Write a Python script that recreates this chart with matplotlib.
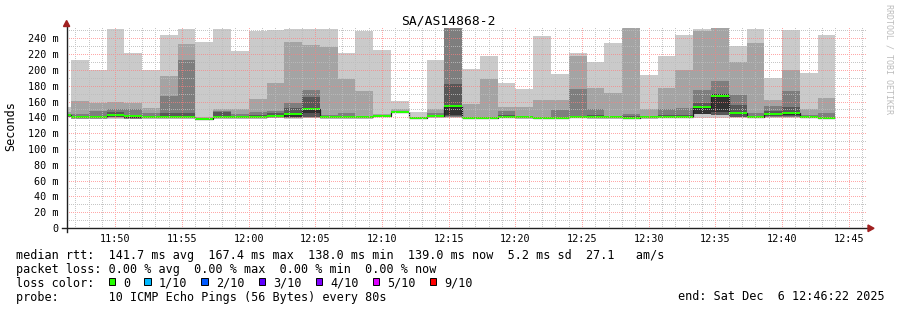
import matplotlib
matplotlib.use("Agg")
import matplotlib.pyplot as plt
from matplotlib.lines import Line2D
from matplotlib.patches import Polygon, Rectangle
import numpy as np

W, H = 897, 310
MONO = "DejaVu Sans Mono"

title = "SA/AS14868-2"
y_label = "Seconds"
watermark = "RRDTOOL / TOBI OETIKER"

# time axis (minutes of day)
t_start = 11 * 60 + 46 + 22 / 60
t_end = 12 * 60 + 46 + 22 / 60
first_step = 11 * 60 + 45 + 20 / 60
step_min = 80 / 60
y_top = 253

y_ticks = [0, 20, 40, 60, 80, 100, 120, 140, 160, 180, 200, 220, 240]
y_tick_labels = ["0", "20 m", "40 m", "60 m", "80 m", "100 m", "120 m", "140 m",
                 "160 m", "180 m", "200 m", "220 m", "240 m"]
x_ticks = [710, 715, 720, 725, 730, 735, 740, 745, 750, 755, 760, 765]
x_tick_labels = ["11:50", "11:55", "12:00", "12:05", "12:10", "12:15", "12:20",
                 "12:25", "12:30", "12:35", "12:40", "12:45"]

# sorted ping values per 80 s step (ms)
ping_max = [153, 213, 200, 252, 222, 200, 244, 252, 235, 252, 224, 249, 251, 252, 252, 252,
            221, 249, 225, 161, 147, 212, 260, 201, 217, 183, 175.5, 243, 194.5, 222, 209.5,
            234.5, 260, 193, 217, 244, 252, 260, 230, 252, 189.5, 250, 196, 244.5]
ping_p9 = [147, 161, 158, 160, 158, 152, 192, 233, 140, 151, 150, 163, 183, 235, 232, 229,
           189, 173, 144, 150, 141, 151, 258, 157, 188, 153, 153, 162, 162, 218, 177,
           171, 256, 150, 177, 199.5, 249, 258, 209.5, 234, 162.5, 200.5, 150, 164.5]
ping_p8 = [143.5, 144.5, 148, 150.5, 150.5, 145, 167, 212, 139.7, 148, 144, 147, 148, 158, 175, 143,
           146, 142, 143, 148, 140, 146, 256, 141, 141, 148, 142, 141, 149, 175.5, 151,
           142, 144, 142, 150.5, 152, 175, 185.5, 168, 145, 154, 173.5, 143, 146]
ping_p7 = [143, 142, 142, 146.5, 142.5, 142, 145, 145, 139.4, 147, 142, 143, 145, 152, 166, 141.5,
           142, 141, 142.6, 147.5, 139.5, 143, 182, 140, 140, 142.5, 141, 140, 141, 142, 143,
           141, 142, 141, 143, 143, 158.5, 169.5, 155.5, 142, 148, 153.5, 142, 141]
ping_p6 = [142.8, 141, 140.5, 143.5, 141.7, 141.3, 141.2, 141.2, 138.5, 141, 141.3, 141, 142, 145, 152, 140.5,
           140.4, 140.4, 142.3, 147.2, 139.3, 142.2, 156, 139.2, 139.4, 140.8, 140.2, 139.4, 139.4, 140.8, 141.4,
           140.4, 140, 140.2, 141.4, 141.4, 154, 169, 146, 141.4, 144.5, 146.3, 141.4, 139.4]
ping_p5 = [142, 140, 139.5, 142, 139, 140.5, 140.3, 140.3, 137.8, 140, 140.5, 140, 141, 141, 146, 139.8,
           139.6, 139.6, 141.7, 146.4, 138.7, 141.4, 143.5, 138.5, 138.7, 140, 139.5, 138.7, 138.7, 140, 139.5,
           139.6, 139.2, 139.5, 140.6, 140.6, 144.5, 147, 144, 140.6, 143, 143, 140.6, 138.8]
ping_p4 = [141.5, 139.5, 139, 141, 138.7, 140, 140, 140, 137.6, 139.7, 140, 139.5, 140.5, 140, 141, 139.5,
           139.3, 139.3, 141.4, 146, 138.5, 141, 142, 138.3, 138.5, 139.7, 139.2, 138.5, 138.5, 139.7, 139.2,
           139.3, 139, 139.2, 140.3, 140.3, 144.4, 143.5, 141, 140.3, 141.5, 141.5, 140.3, 138.6]
ping_p3 = [141, 139, 138.7, 140, 138.5, 139.5, 139.5, 139.5, 137.4, 139.4, 139.5, 139, 140, 139.5, 140, 139.2,
           139, 139, 141.1, 145.6, 138.3, 140.5, 141, 138.1, 138.3, 139.4, 139, 138.3, 138.3, 139.4, 139,
           139, 138.8, 139, 140, 140, 144.3, 143, 140.5, 140, 141, 141, 140, 138.4]
ping_p2 = [140.5, 138.5, 138.4, 139, 138.3, 139, 139, 139, 137.2, 139, 139, 138.7, 139.5, 139, 139.5, 139,
           138.7, 138.7, 140.8, 145.3, 138.1, 140, 140, 137.9, 138.1, 139, 138.7, 138.1, 138.1, 139, 138.7,
           138.7, 138.5, 138.7, 139.6, 139.6, 144.2, 142.5, 140, 139.6, 140.5, 140, 139.6, 138.2]
ping_min = [140, 138, 138, 138.5, 138, 138.5, 138.5, 138.5, 137, 138.5, 138.5, 138.3, 139, 138.5, 139, 138.5,
            138.3, 138.3, 140.5, 145, 137.8, 139.5, 139, 137.7, 137.9, 138.6, 138.4, 137.9, 137.9, 138.6, 138.4,
            138.4, 138.2, 138.4, 139.2, 139.2, 139, 139, 139, 139.2, 139, 139, 139.2, 138]
median_rtt = [142.5, 140.5, 140, 143, 141.5, 141, 140.8, 140.8, 138.0, 140.5, 141, 140.5, 141.5, 144.5, 150.8, 140.2,
              140, 140, 142, 146.8, 139, 141.8, 153.7, 138.8, 139, 140.4, 139.8, 139, 139, 140.4, 141,
              140, 139.6, 139.8, 141, 141, 153.4, 167.4, 145.5, 141, 144, 145.8, 141, 139.0]

legend_line1 = "median rtt:  141.7 ms avg  167.4 ms max  138.0 ms min  139.0 ms now  5.2 ms sd  27.1   am/s"
legend_line2 = "packet loss: 0.00 % avg  0.00 % max  0.00 % min  0.00 % now"
legend_line3 = "loss color:"
loss_labels = ["0", "1/10", "2/10", "3/10", "4/10", "5/10", "9/10"]
loss_colors = ["#26ff00", "#00b8ff", "#0059ff", "#5e00ff", "#7e00ff", "#dd00ff", "#ff0000"]
legend_line4 = "probe:       10 ICMP Echo Pings (56 Bytes) every 80s"
end_text = "end: Sat Dec  6 12:46:22 2025"

smoke_colors = ["#cacaca", "#a4a4a4", "#7e7e7e", "#585858", "#323232"]


def fx(x):
    return x / W


def fy(y):
    return 1 - y / H


PX0, PY_TOP, PW, PH = 67, 28, 800, 200  # plot area in pixels
fig = plt.figure(figsize=(W / 100, H / 100), dpi=100)
fig.patch.set_facecolor("white")
ax = fig.add_axes([fx(PX0), fy(PY_TOP + PH), PW / W, PH / H])
ax.set_facecolor("white")
for s in ax.spines.values():
    s.set_visible(False)
ax.set_xlim(t_start, t_end)
ax.set_ylim(0, y_top)

n = len(median_rtt)
edges = first_step + step_min * np.arange(n + 1)


def ext(a):
    a = np.asarray(a, dtype=float)
    return np.append(a, a[-1])


pairs = [(ping_min, ping_max), (ping_p2, ping_p9), (ping_p3, ping_p8),
         (ping_p4, ping_p7), (ping_p5, ping_p6)]
for (lo, hi), c in zip(pairs, smoke_colors):
    ax.fill_between(edges, ext(lo), ext(hi), step="post", color=c, lw=0, zorder=2)

med = np.asarray(median_rtt, dtype=float)
ax.stairs(med, edges, baseline=None, color="#202020", lw=0.9, zorder=3)
sw = y_top / 200.0
ax.fill_between(edges, ext(med - sw), ext(med + sw), step="post", color=loss_colors[0],
                lw=0, zorder=3.5)

# dotted grid, placed pixel-exact on the figure (over the plot)
grid = np.zeros((PH, PW, 4))
minor_c = (0.74, 0.74, 0.74, 0.85)
major_c = (1.0, 0.5, 0.5, 0.68)


def row_of(v):
    return int(round((y_top - v) / y_top * PH))


def col_of(m):
    return int(round((m - t_start) / (t_end - t_start) * PW))


for major in (False, True):
    c = major_c if major else minor_c
    for v in range(10, y_top, 10):
        if (v % 20 == 0) == major:
            r = row_of(v)
            if 0 <= r < PH:
                grid[r, 0::2] = c
    for m in range(707, 767):
        if (m % 5 == 0) == major:
            k = col_of(m)
            if 0 <= k < PW:
                grid[0::2, k] = c
fig.figimage(grid, xo=PX0, yo=H - (PY_TOP + PH), origin="upper", zorder=1)

ax.set_yticks(y_ticks)
ax.set_yticklabels(y_tick_labels, family=MONO, fontsize=7.3)
ax.set_xticks(x_ticks)
ax.set_xticklabels(x_tick_labels, family=MONO, fontsize=7.3)
ax.tick_params(axis="y", length=0, pad=6)
ax.tick_params(axis="x", length=0, pad=4)

# axes lines with arrows
axis_col = "#202020"
arrow_col = "#a02020"
fig.add_artist(Line2D([fx(62), fx(869)], [fy(228.3), fy(228.3)], color=axis_col, lw=1.0, zorder=2))
fig.add_artist(Line2D([fx(66.6), fx(66.6)], [fy(232), fy(25)], color=axis_col, lw=1.0, zorder=2))
fig.add_artist(Polygon([[fx(868), fy(225)], [fx(874), fy(228.3)], [fx(868), fy(231.6)]],
                       closed=True, color=arrow_col, transform=fig.transFigure, zorder=2))
fig.add_artist(Polygon([[fx(63.5), fy(26.5)], [fx(66.6), fy(20.5)], [fx(69.7), fy(26.5)]],
                       closed=True, color=arrow_col, transform=fig.transFigure, zorder=2))

# texts
fig.text(fx(448.5), fy(24.3), title, ha="center", va="baseline", fontsize=9.4, family=MONO)
fig.text(fx(11), fy(126), y_label, rotation=90, ha="center", va="center", fontsize=8.5, family=MONO)
fig.text(fx(888.5), fy(4), watermark, rotation=270, ha="center", va="top", fontsize=6,
         color="#bcbcbc", family=MONO)

fig.text(fx(16), fy(258.5), legend_line1, ha="left", va="baseline", fontsize=8.5, family=MONO)
fig.text(fx(16), fy(272.5), legend_line2, ha="left", va="baseline", fontsize=8.5, family=MONO)
fig.text(fx(16), fy(286.7), legend_line3, ha="left", va="baseline", fontsize=8.5, family=MONO)
fig.text(fx(16), fy(300.5), legend_line4, ha="left", va="baseline", fontsize=8.5, family=MONO)
fig.text(fx(678), fy(300.5), end_text, ha="left", va="baseline", fontsize=8.5, family=MONO)

xpos = 108.5
for lab, col in zip(loss_labels, loss_colors):
    fig.add_artist(Rectangle((fx(xpos), fy(285.3)), 6.5 / W, 7 / H, facecolor=col,
                             edgecolor="black", lw=0.7, transform=fig.transFigure))
    fig.text(fx(xpos + 14.5), fy(286.7), lab, ha="left", va="baseline", fontsize=8.5, family=MONO)
    xpos += 14.5 + 7.1 * (len(lab) + 2)

fig.savefig("out.png", dpi=100, facecolor="white")
